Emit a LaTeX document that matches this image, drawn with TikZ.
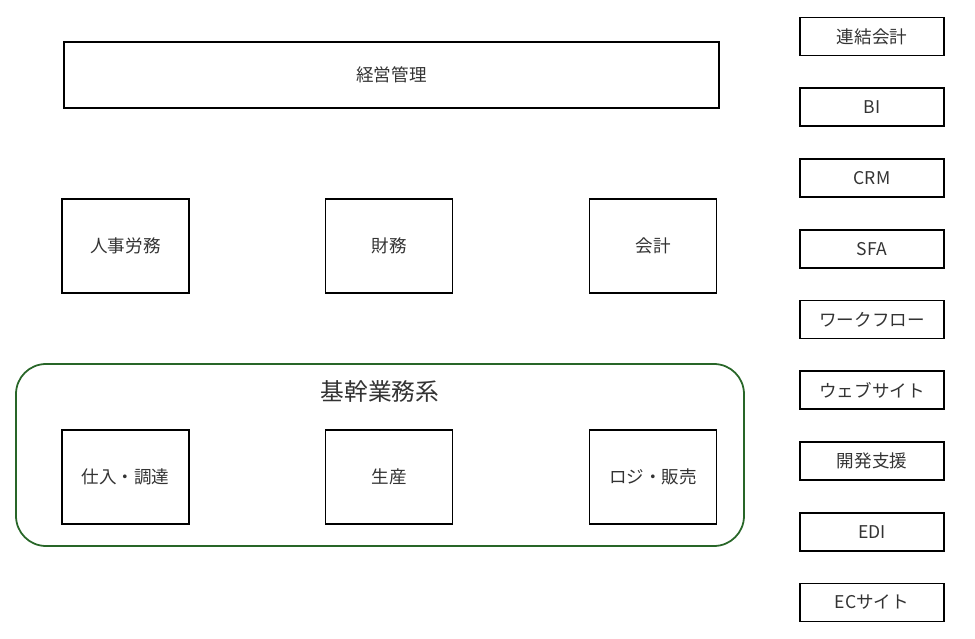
\documentclass[tikz,border=0pt]{standalone}
\usepackage{fontspec}
\setmainfont{Noto Sans CJK JP}
\definecolor{groupgreen}{RGB}{40,102,40}
\tikzset{
    bizbox/.style={draw=black, line width=1.1pt, minimum width=2.54cm, minimum height=1.88cm, font=\fontsize{10}{12}\selectfont, text=black!80},
    sysbox/.style={draw=black, line width=1.1pt, minimum width=2.88cm, minimum height=0.76cm, font=\fontsize{10}{12}\selectfont, text=black!80},
}
\begin{document}
\begin{tikzpicture}[x=0.02cm, y=-0.02cm]
        \useasboundingbox (0,0) rectangle (975,639);
        % top
        \node [bizbox, minimum width=13.1cm, minimum height=1.32cm] (keiei) at (391.5,75) {経営管理};
        % middle row
        \node [bizbox] (jinji) at (125.5,246) {人事労務};
        \node [bizbox] (zaimu) at (389,246) {財務};
        \node [bizbox] (kaikei) at (653,246) {会計};
        % core group
        \draw [groupgreen, line width=1pt, rounded corners=0.6cm] (16,364) rectangle (744,546);
        \node [font=\fontsize{13.5}{15}\selectfont, text=black!80] (kikan) at (380,391) {基幹業務系};
        \node [bizbox] (shiire) at (125.5,477) {仕入・調達};
        \node [bizbox] (seisan) at (389,477) {生産};
        \node [bizbox] (logi) at (653,477) {ロジ・販売};
        % right column
        \foreach \i/\t in {0/連結会計,1/BI,2/CRM,3/SFA,4/ワークフロー,5/ウェブサイト,6/開発支援,7/EDI,8/ECサイト}
            \node [sysbox] (sys\i) at (872,{36.5+70.75*\i}) {\t};
    \end{tikzpicture}
\end{document}
